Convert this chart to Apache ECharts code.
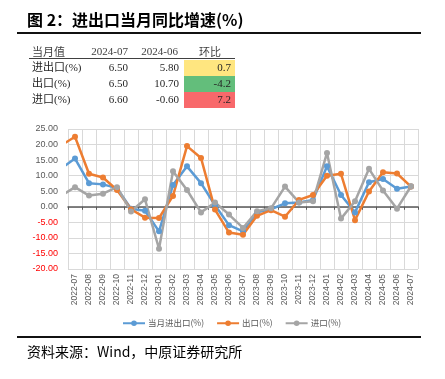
<!DOCTYPE html>
<html>
<head>
<meta charset="utf-8">
<script src="https://cdn.jsdelivr.net/npm/echarts@6/dist/echarts.min.js"></script>
<style>
  html, body { margin: 0; padding: 0; background: #fff; }
  #chart { width: 445px; height: 379px; }
</style>
</head>
<body>
<div id="chart"></div>
<script>
// 进出口当月同比增速
var dom = document.getElementById('chart');
var myChart = echarts.init(dom);

// first entry (2022-06) only feeds the line that enters from the left edge
var months = ['2022-06',
  '2022-07', '2022-08', '2022-09', '2022-10', '2022-11', '2022-12',
  '2023-01', '2023-02', '2023-03', '2023-04', '2023-05', '2023-06',
  '2023-07', '2023-08', '2023-09', '2023-10', '2023-11', '2023-12',
  '2024-01', '2024-02', '2024-03', '2024-04', '2024-05', '2024-06', '2024-07'];
var tradeTotal = [12.3, 15.5, 7.6, 7.2, 6.0, -0.6, -1.3, -7.9, 7.0, 13.0, 7.6, 0.5, -5.9,
  -7.9, -1.8, -0.8, 1.1, 1.4, 2.2, 13.0, 3.8, -1.8, 7.9, 8.9, 5.8, 6.5];
var exports = [19.7, 22.5, 10.6, 9.4, 5.4, -0.8, -3.5, -3.6, 3.5, 19.5, 15.7, -0.9, -8.3,
  -9.0, -2.9, -1.1, -3.2, 2.2, 3.8, 10.0, 10.6, -4.3, 4.9, 11.1, 10.7, 6.5];
var imports = [3.5, 6.3, 3.6, 4.2, 6.3, -1.5, 2.4, -13.5, 11.4, 5.4, -1.8, 1.4, -2.5,
  -6.8, -1.4, -0.5, 6.5, 1.4, 1.8, 17.3, -3.8, 1.8, 12.2, 5.2, -0.6, 6.6];

// summary table
var tableHead = ['当月值', '2024-07', '2024-06', '环比'];
var tableRows = ['进出口(%)', '出口(%)', '进口(%)'];
var curValues = ['6.50', '6.50', '6.60'];
var prevValues = ['5.80', '10.70', '-0.60'];
var changeValues = ['0.7', '-4.2', '7.2'];
var changeColors = ['#FFE680', '#63BE7B', '#F8696B'];

var labelMonths = months.slice(1);
var cjk = '"Noto Sans CJK SC", sans-serif';
var serif = '"Liberation Serif", "Noto Sans CJK SC", serif';

function toPoints(values) {
  return values.map(function (v, i) {
    if (i === 0) return { value: [i - 1, v], symbol: 'none' };
    return [i - 1, v];
  });
}

function txt(x, y, text, font, color, align) {
  return {
    type: 'text', x: x, y: y, silent: true,
    style: {
      text: text, font: font, fill: color,
      align: align || 'left', textAlign: align || 'left',
      verticalAlign: 'middle', textVerticalAlign: 'middle'
    }
  };
}

var graphics = [];
graphics.push(txt(27, 20, '图 2：进出口当月同比增速(%)', 'bold 16px ' + cjk, '#000'));
graphics.push({ type: 'line', silent: true, shape: { x1: 17, y1: 33, x2: 421, y2: 33 }, style: { stroke: '#111', lineWidth: 2 } });

// table
var rowY = [68, 84, 100];
changeColors.forEach(function (c, i) {
  graphics.push({ type: 'rect', silent: true, shape: { x: 184, y: 60 + i * 16, width: 51, height: 16 }, style: { fill: c } });
});
graphics.push(txt(32, 52, tableHead[0], '11px ' + cjk, '#404040'));
graphics.push(txt(128, 52, tableHead[1], '11px ' + serif, '#404040', 'right'));
graphics.push(txt(178, 52, tableHead[2], '11px ' + serif, '#404040', 'right'));
graphics.push(txt(210, 52, tableHead[3], '11px ' + cjk, '#404040', 'center'));
graphics.push({ type: 'line', silent: true, shape: { x1: 29, y1: 58.5, x2: 235, y2: 58.5 }, style: { stroke: '#404040', lineWidth: 1 } });
tableRows.forEach(function (name, i) {
  graphics.push(txt(32, rowY[i], name, '11px ' + serif, '#262626'));
  graphics.push(txt(128, rowY[i], curValues[i], '11px ' + serif, '#262626', 'right'));
  graphics.push(txt(179, rowY[i], prevValues[i], '11px ' + serif, '#262626', 'right'));
  graphics.push(txt(231, rowY[i], changeValues[i], '11px ' + serif, '#262626', 'right'));
});

// footer
graphics.push({ type: 'line', silent: true, shape: { x1: 17, y1: 337, x2: 421, y2: 337 }, style: { stroke: '#111', lineWidth: 2 } });
graphics.push(txt(27, 352, '资料来源：Wind，中原证券研究所', '14px ' + cjk, '#000'));

var option = {
  animation: false,
  backgroundColor: '#fff',
  graphic: graphics,
  grid: { left: 68, right: 27, top: 129, bottom: 110 },
  legend: {
    left: 117,
    top: 314,
    itemWidth: 22,
    itemHeight: 7,
    itemGap: 12,
    textStyle: { fontSize: 8.5, color: '#595959', fontFamily: cjk, padding: [0, 0, 0, -2] },
    data: ['当月进出口(%)', '出口(%)', '进口(%)']
  },
  xAxis: [
    {
      type: 'category',
      data: labelMonths,
      position: 'bottom',
      boundaryGap: true,
      axisLine: { show: false, onZero: false },
      axisTick: { show: false, interval: 0 },
      axisLabel: { interval: 0, rotate: 90, fontSize: 8.5, color: '#595959', margin: 5, fontFamily: 'Liberation Sans' },
      splitLine: { show: true, interval: 0, lineStyle: { color: '#D9D9D9', width: 1 } }
    },
    {
      type: 'category',
      data: labelMonths,
      position: 'bottom',
      boundaryGap: true,
      axisLine: { show: true, onZero: true, lineStyle: { color: '#595959', width: 1.5 } },
      axisTick: { show: true, interval: 0, length: 3, lineStyle: { color: '#595959' } },
      axisLabel: { show: false },
      splitLine: { show: false }
    },
    {
      type: 'value',
      show: false,
      min: -0.5,
      max: labelMonths.length - 0.5,
      axisLine: { onZero: false },
      splitLine: { show: false }
    }
  ],
  yAxis: {
    type: 'value',
    min: -20,
    max: 25,
    interval: 5,
    axisLine: { show: false, onZero: false },
    axisTick: { show: false },
    axisLabel: {
      fontSize: 9,
      margin: 10,
      fontFamily: 'Liberation Sans',
      formatter: function (v) { return Number(v).toFixed(2); },
      color: function (v) { return parseFloat(v) < 0 ? '#FF0000' : '#595959'; }
    },
    splitLine: { lineStyle: { color: '#D9D9D9', width: 1 } }
  },
  series: [
    {
      name: '当月进出口(%)',
      type: 'line',
      xAxisIndex: 2,
      data: toPoints(tradeTotal),
      symbol: 'circle',
      symbolSize: 6,
      lineStyle: { width: 2.5, color: '#5B9BD5' },
      itemStyle: { color: '#5B9BD5' }
    },
    {
      name: '出口(%)',
      type: 'line',
      xAxisIndex: 2,
      data: toPoints(exports),
      symbol: 'circle',
      symbolSize: 6,
      lineStyle: { width: 2.5, color: '#ED7D31' },
      itemStyle: { color: '#ED7D31' }
    },
    {
      name: '进口(%)',
      type: 'line',
      xAxisIndex: 2,
      data: toPoints(imports),
      symbol: 'circle',
      symbolSize: 6,
      lineStyle: { width: 2.5, color: '#A5A5A5' },
      itemStyle: { color: '#A5A5A5' }
    }
  ]
};

if (option && typeof option === 'object') {
  myChart.setOption(option);
}
</script>
</body>
</html>
